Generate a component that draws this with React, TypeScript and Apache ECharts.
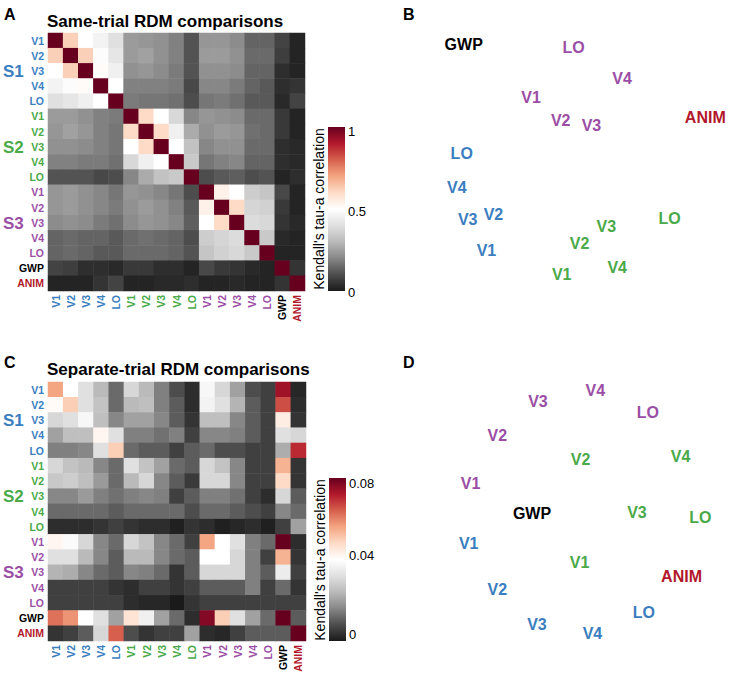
import React, { useEffect, useRef } from "react";
import * as echarts from "echarts";

const FONT = "Liberation Sans, Arial, Helvetica, sans-serif";

// Row/column categories of both RDM-comparison matrices
const areaLabels = ["V1", "V2", "V3", "V4", "LO", "V1", "V2", "V3", "V4", "LO", "V1", "V2", "V3", "V4", "LO", "GWP", "ANIM"];
const areaGroups = ["S1", "S1", "S1", "S1", "S1", "S2", "S2", "S2", "S2", "S2", "S3", "S3", "S3", "S3", "S3", "GWP", "ANIM"];
const groupColors: Record<string, string> = {
  S1: "#3a7ebf",
  S2: "#4aa948",
  S3: "#9b4ea5",
  GWP: "#000000",
  ANIM: "#b2182b",
};

// Panel A: same-trial RDM comparisons (Kendall's tau-a)
const sameTrial: number[][] = [
  [1, .62, .50, .46, .40, .24, .23, .22, .19, .11, .23, .23, .21, .14, .14, .08, .02],
  [.62, 1, .62, .49, .42, .24, .25, .22, .19, .11, .24, .24, .22, .15, .15, .07, .02],
  [.50, .62, 1, .51, .45, .22, .23, .21, .18, .11, .22, .22, .21, .14, .14, .04, .02],
  [.46, .49, .51, 1, .50, .19, .19, .19, .18, .09, .20, .20, .18, .14, .12, .04, .05],
  [.40, .42, .45, .50, 1, .18, .17, .17, .16, .10, .17, .18, .16, .12, .12, .03, .08],
  [.24, .24, .22, .19, .18, 1, .60, .50, .38, .20, .23, .22, .21, .15, .15, .06, .02],
  [.23, .25, .23, .19, .17, .60, 1, .60, .45, .27, .22, .24, .23, .16, .15, .06, .02],
  [.22, .22, .21, .19, .17, .50, .60, 1, .50, .32, .20, .22, .22, .15, .15, .04, .03],
  [.19, .19, .18, .18, .16, .38, .45, .50, 1, .34, .17, .19, .20, .14, .14, .04, .03],
  [.11, .11, .11, .09, .10, .20, .27, .32, .34, 1, .10, .12, .13, .10, .11, .02, .04],
  [.23, .24, .22, .20, .17, .23, .22, .20, .17, .10, 1, .54, .50, .35, .33, .09, .02],
  [.23, .24, .22, .20, .18, .22, .24, .22, .19, .12, .54, 1, .60, .37, .36, .06, .02],
  [.21, .22, .21, .18, .16, .21, .23, .22, .20, .13, .50, .60, 1, .39, .38, .05, .03],
  [.14, .15, .14, .14, .12, .15, .16, .15, .14, .10, .35, .37, .39, 1, .34, .03, .02],
  [.14, .15, .14, .12, .12, .15, .15, .15, .14, .11, .33, .36, .38, .34, 1, .02, .02],
  [.08, .07, .04, .04, .03, .06, .06, .04, .04, .02, .09, .06, .05, .03, .02, 1, .05],
  [.02, .02, .02, .05, .08, .02, .02, .03, .03, .04, .02, .02, .03, .02, .02, .05, 1],
];

// Panel C: separate-trial RDM comparisons (Kendall's tau-a)
const separateTrial: number[][] = [
  [0.056, 0.040, 0.032, 0.024, 0.012, 0.030, 0.024, 0.015, 0.008, 0.003, 0.038, 0.030, 0.020, 0.008, 0.006, 0.074, 0.002],
  [0.041, 0.050, 0.032, 0.026, 0.012, 0.024, 0.025, 0.015, 0.010, 0.003, 0.037, 0.032, 0.023, 0.010, 0.006, 0.066, 0.003],
  [0.030, 0.032, 0.038, 0.025, 0.016, 0.020, 0.020, 0.016, 0.010, 0.004, 0.025, 0.025, 0.016, 0.010, 0.006, 0.044, 0.004],
  [0.020, 0.025, 0.025, 0.042, 0.032, 0.015, 0.015, 0.013, 0.015, 0.006, 0.016, 0.016, 0.015, 0.010, 0.006, 0.032, 0.030],
  [0.015, 0.015, 0.016, 0.032, 0.050, 0.012, 0.010, 0.010, 0.006, 0.010, 0.012, 0.008, 0.008, 0.006, 0.006, 0.022, 0.070],
  [0.030, 0.026, 0.024, 0.016, 0.012, 0.032, 0.026, 0.020, 0.012, 0.010, 0.030, 0.026, 0.016, 0.006, 0.006, 0.054, 0.004],
  [0.027, 0.028, 0.025, 0.019, 0.012, 0.024, 0.030, 0.016, 0.010, 0.005, 0.030, 0.030, 0.016, 0.006, 0.006, 0.048, 0.004],
  [0.016, 0.016, 0.019, 0.015, 0.013, 0.015, 0.016, 0.015, 0.006, 0.010, 0.015, 0.015, 0.013, 0.006, 0.003, 0.030, 0.010],
  [0.012, 0.012, 0.012, 0.012, 0.010, 0.012, 0.012, 0.012, 0.012, 0.008, 0.012, 0.012, 0.010, 0.008, 0.006, 0.016, 0.012],
  [0.003, 0.003, 0.003, 0.004, 0.006, 0.004, 0.003, 0.003, 0.001, 0.004, 0.003, 0.001, 0.002, 0.003, 0.001, 0.006, 0.020],
  [0.042, 0.039, 0.030, 0.016, 0.012, 0.030, 0.026, 0.016, 0.012, 0.006, 0.056, 0.040, 0.032, 0.015, 0.012, 0.080, 0.003],
  [0.032, 0.032, 0.024, 0.016, 0.010, 0.024, 0.024, 0.016, 0.012, 0.010, 0.040, 0.040, 0.030, 0.015, 0.006, 0.054, 0.004],
  [0.023, 0.022, 0.016, 0.012, 0.010, 0.016, 0.015, 0.012, 0.004, 0.010, 0.030, 0.030, 0.030, 0.015, 0.010, 0.035, 0.006],
  [0.006, 0.006, 0.006, 0.006, 0.004, 0.003, 0.006, 0.006, 0.004, 0.006, 0.010, 0.010, 0.010, 0.015, 0.006, 0.012, 0.004],
  [0.006, 0.006, 0.006, 0.006, 0.006, 0.003, 0.002, 0.002, 0.000, 0.004, 0.006, 0.006, 0.006, 0.006, 0.006, 0.006, 0.006],
  [0.062, 0.058, 0.040, 0.032, 0.020, 0.046, 0.036, 0.020, 0.012, 0.003, 0.077, 0.050, 0.032, 0.020, 0.012, 0.080, 0.010],
  [0.004, 0.006, 0.010, 0.030, 0.064, 0.008, 0.004, 0.006, 0.006, 0.020, 0.003, 0.002, 0.006, 0.010, 0.010, 0.010, 0.080],
];

// Colour bar ticks
const ticksA = ["1", "0.5", "0"];
const ticksC = ["0.08", "0.04", "0"];

// Panel B: MDS of same-trial comparisons
const mdsBLabels = ["GWP", "LO", "V4", "V1", "V2", "V3", "ANIM", "LO", "V4", "V3", "V2", "V1", "LO", "V3", "V2", "V4", "V1"];
const mdsBGroups = ["GWP", "S3", "S3", "S3", "S3", "S3", "ANIM", "S1", "S1", "S1", "S1", "S1", "S2", "S2", "S2", "S2", "S2"];
const mdsBDim1 = [-1.21, -0.10, 0.39, -0.53, -0.23, 0.08, 1.23, -1.23, -1.28, -1.17, -0.91, -0.98, 0.87, 0.23, -0.04, 0.34, -0.22];
const mdsBDim2 = [1.16, 1.13, 0.82, 0.63, 0.40, 0.35, 0.43, 0.07, -0.27, -0.59, -0.54, -0.90, -0.58, -0.66, -0.83, -1.07, -1.14];

// Panel D: MDS of separate-trial comparisons
const mdsDLabels = ["V4", "V3", "LO", "V2", "V2", "V4", "V1", "GWP", "V3", "LO", "V1", "V1", "ANIM", "V2", "LO", "V3", "V4"];
const mdsDGroups = ["S3", "S3", "S3", "S3", "S2", "S2", "S3", "GWP", "S2", "S2", "S1", "S2", "ANIM", "S1", "S1", "S1", "S1"];
const mdsDDim1 = [0.12, -0.46, 0.65, -0.87, -0.03, 0.98, -1.14, -0.52, 0.54, 1.18, -1.16, -0.04, 0.99, -0.87, 0.61, -0.47, 0.09];
const mdsDDim2 = [1.20, 1.09, 0.98, 0.75, 0.51, 0.54, 0.27, -0.03, -0.02, -0.07, -0.33, -0.52, -0.66, -0.79, -1.02, -1.14, -1.23];

const RDGY = ["#1a1a1a", "#4d4d4d", "#878787", "#bababa", "#e0e0e0", "#ffffff", "#fddbc7", "#f4a582", "#d6604d", "#b2182b", "#67001f"];

const catKeys = areaLabels.map((l, i) => `${areaGroups[i]}-${l}-${i}`);
const keyLabel = (k: string) => k.split("-")[1];
const keyColor = (k: string) => groupColors[k.split("-")[0]] || "#000";

function heatData(m: number[][]) {
  const out: number[][] = [];
  m.forEach((row, r) => row.forEach((v, c) => out.push([c, r, v])));
  return out;
}

function mdsData(labels: string[], groups: string[], d1: number[], d2: number[]) {
  return labels.map((l, i) => ({
    name: l,
    value: [d1[i], d2[i]],
    label: { color: groupColors[groups[i]] },
  }));
}

function heatAxes(gridIndex: number) {
  const common = {
    type: "category",
    gridIndex,
    data: catKeys,
    axisLine: { show: false },
    axisTick: { show: false },
    splitLine: { show: false },
  };
  const labelCommon = {
    interval: 0,
    fontSize: 10.5,
    fontWeight: "bold",
    fontFamily: FONT,
    formatter: (v: string) => keyLabel(v),
    color: (v: string) => keyColor(v),
  };
  return {
    x: { ...common, axisLabel: { ...labelCommon, rotate: 90, margin: 4 } },
    y: { ...common, inverse: true, axisLabel: { ...labelCommon, margin: 4 } },
  };
}

function colorBar(x: number, top: number, h: number, ticks: string[], tickYs: number[], titleY: number) {
  const stops = RDGY.slice().reverse().map((c, i) => ({ offset: i / 10, color: c }));
  const els: any[] = [
    {
      type: "rect",
      shape: { x, y: top, width: 17, height: h },
      style: { fill: new echarts.graphic.LinearGradient(0, 0, 0, 1, stops) },
    },
    {
      type: "text",
      x: x - 9,
      y: titleY,
      rotation: Math.PI / 2,
      style: {
        text: "Kendall's tau-a correlation",
        font: `14px ${FONT}`,
        fill: "#000",
        align: "center",
        verticalAlign: "middle",
      },
    },
  ];
  ticks.forEach((t, i) =>
    els.push({
      type: "text",
      x: x + 20,
      y: tickYs[i],
      style: { text: t, font: `13px ${FONT}`, fill: "#000", align: "left", verticalAlign: "middle" },
    })
  );
  return els;
}

function txt(text: string, x: number, y: number, size: number, fill = "#000", align = "left") {
  return {
    type: "text",
    x,
    y,
    style: { text, font: `bold ${size}px ${FONT}`, fill, align, verticalAlign: "middle" },
  };
}

function buildOption() {
  const a = heatAxes(0);
  const c = heatAxes(1);
  const hiddenVal = (gridIndex: number) => ({
    type: "value",
    gridIndex,
    min: -1.5,
    max: 1.5,
    show: false,
  });
  const sLabelsA = [71, 147, 223];
  const sLabelsC = [420, 496, 572];
  const graphic: any[] = [
    txt("A", 4, 14, 16),
    txt("B", 403, 14, 16),
    txt("C", 4, 362, 16),
    txt("D", 403, 362, 16),
    txt("Same-trial RDM comparisons", 47, 21, 17),
    txt("Separate-trial RDM comparisons", 47, 369, 17),
    ...["S1", "S2", "S3"].map((s, i) => txt(s, 3, sLabelsA[i], 17, groupColors[s])),
    ...["S1", "S2", "S3"].map((s, i) => txt(s, 3, sLabelsC[i], 17, groupColors[s])),
    ...colorBar(328, 127, 164, ticksA, [131, 211, 292], 209),
    ...colorBar(329, 478, 163, ticksC, [483, 555, 634], 560),
  ];
  const mdsSeries = (idx: number, data: any[]) => ({
    type: "scatter",
    xAxisIndex: idx,
    yAxisIndex: idx,
    symbolSize: 0.1,
    itemStyle: { color: "#ffffff", opacity: 1 },
    label: {
      show: true,
      position: "inside",
      formatter: "{b}",
      fontSize: 16,
      fontWeight: "bold",
      fontFamily: FONT,
      opacity: 1,
      textBorderWidth: 0,
      textBorderColor: "transparent",
    },
    emphasis: { disabled: true },
    data,
  });
  return {
    animation: false,
    backgroundColor: "#fff",
    grid: [
      { left: 48, top: 33, width: 257, height: 258 },
      { left: 48, top: 382, width: 258, height: 259 },
      { left: 435, top: 10, width: 300, height: 300 },
      { left: 435, top: 360, width: 300, height: 300 },
    ],
    xAxis: [a.x, c.x, hiddenVal(2), hiddenVal(3)],
    yAxis: [a.y, c.y, hiddenVal(2), hiddenVal(3)],
    visualMap: [
      { type: "continuous", show: false, min: 0, max: 1, seriesIndex: 0, inRange: { color: RDGY } },
      { type: "continuous", show: false, min: 0, max: 0.08, seriesIndex: 1, inRange: { color: RDGY } },
    ],
    series: [
      {
        type: "heatmap",
        xAxisIndex: 0,
        yAxisIndex: 0,
        data: heatData(sameTrial),
        emphasis: { disabled: true },
        itemStyle: { borderWidth: 0 },
      },
      {
        type: "heatmap",
        xAxisIndex: 1,
        yAxisIndex: 1,
        data: heatData(separateTrial),
        emphasis: { disabled: true },
        itemStyle: { borderWidth: 0 },
      },
      mdsSeries(2, mdsData(mdsBLabels, mdsBGroups, mdsBDim1, mdsBDim2)),
      mdsSeries(3, mdsData(mdsDLabels, mdsDGroups, mdsDDim1, mdsDDim2)),
    ],
    graphic,
  };
}

export default function App() {
  const ref = useRef<HTMLDivElement>(null);
  useEffect(() => {
    const chart = echarts.init(ref.current!, null, { renderer: "svg" });
    chart.setOption(buildOption() as any);
    return () => chart.dispose();
  }, []);
  return (
    <div
      ref={ref}
      style={{ position: "fixed", left: 0, top: 0, width: 732, height: 677, background: "#fff" }}
    />
  );
}
